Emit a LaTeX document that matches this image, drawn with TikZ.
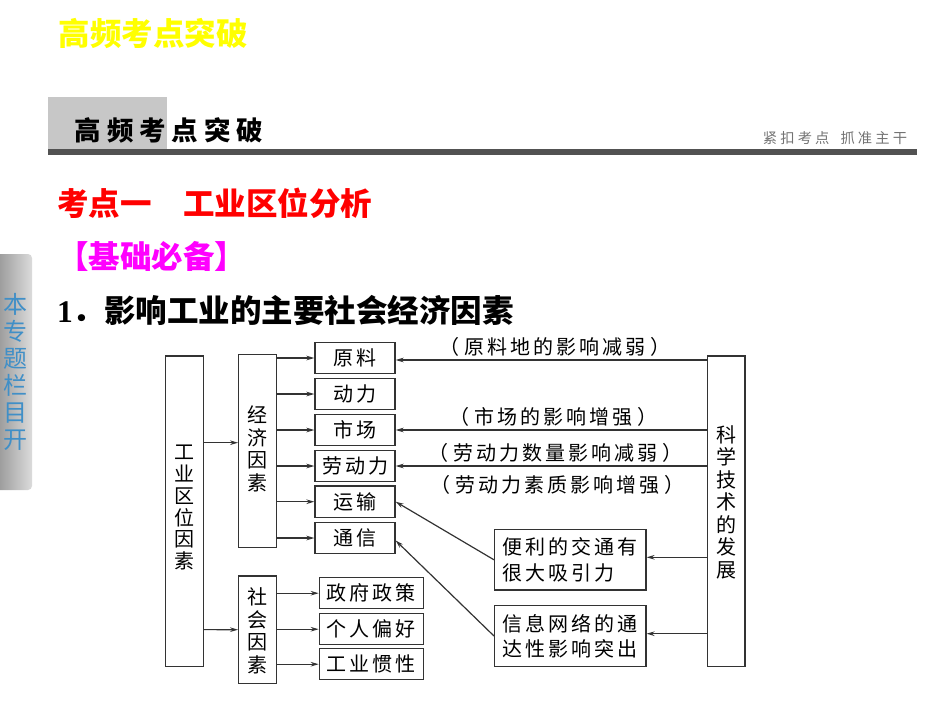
\documentclass[tikz,border=0pt]{standalone}
\usepackage{fontspec}
\setmainfont{Noto Sans CJK SC}
\newfontfamily\boxfont[LetterSpace=15]{Noto Sans CJK SC}
\newfontfamily\headfont[LetterSpace=22]{Noto Sans CJK SC}
\newfontfamily\latinfont{Liberation Serif}
\usetikzlibrary{arrows.meta, positioning}
\definecolor{line1}{rgb}{0.2,0.2,0.2}
\definecolor{tabblue}{rgb}{0.25,0.56,0.78}
\definecolor{yellow1}{rgb}{1,1,0}
\definecolor{red1}{rgb}{1,0,0}
\definecolor{magenta1}{rgb}{1,0,1}
\newcommand{\pnote}[1]{（\hspace{5pt}#1\hspace{5pt}）}

\begin{document}
\begin{tikzpicture}[x=1pt,y=-1pt,>={Stealth[length=8pt,width=4.6pt]},line1]
  \tikzstyle{box}=[draw=line1,line width=1.3pt,text=black,inner sep=0pt,font=\fontsize{20}{22}\boxfont]
  \tikzstyle{small}=[box,minimum width=80pt,minimum height=31.4pt]
  \tikzstyle{wide}=[box,minimum width=104pt,minimum height=31.2pt]
  \tikzstyle{tall}=[box,minimum width=37.6pt]
  \tikzstyle{large}=[box,minimum width=151.3pt,minimum height=60.4pt,align=left,font=\fontsize{20}{25.5}\boxfont]
  \tikzstyle{vtext}=[text=black,align=center,inner sep=0pt,font=\fontsize{20}{22.6}\selectfont]
  \tikzstyle{note}=[text=black,inner sep=0pt,font=\fontsize{20}{22}\boxfont]
  \tikzstyle{arr}=[->,line width=1.2pt]
  \useasboundingbox (0,0) rectangle (950,713);

  % page header
  \node[text=yellow1,inner sep=0pt,font=\fontsize{31.5}{32}\selectfont\bfseries] (title) at (153,33) {高频考点突破};
  \fill[black!22] (48,97) rectangle (167,149);
  \fill[black!68] (48,149) rectangle (917,155);
  \node[text=black,inner sep=0pt,font=\fontsize{26.5}{27}\headfont\bfseries] (head) at (169,130) {高频考点突破};
  \node[text=black!55,inner sep=0pt,font=\fontsize{14.3}{15}\headfont] (slogan) at (835,138) {紧扣考点\hspace{11pt}抓准主干};

  % side tab
  \shade[left color=black!38,right color=black!14] (0,254) [rounded corners=4pt] -- (32,254) -- (32,490) [sharp corners] -- (0,490) -- cycle;
  \node[text=tabblue,align=center,inner sep=0pt,font=\fontsize{24}{27}\selectfont] (tab) at (16,372) {本\\专\\题\\栏\\目\\开};

  % headings
  \node[text=red1,anchor=west,inner sep=0pt,font=\fontsize{31.5}{32}\selectfont\bfseries] (point) at (57,203) {考点一　工业区位分析};
  \node[text=magenta1,anchor=west,inner sep=0pt,font=\fontsize{31.5}{32}\selectfont\bfseries] (basic) at (57,256) {【基础必备】};
  \node[text=black,anchor=west,inner sep=0pt,font=\fontsize{31.5}{32}\selectfont\bfseries] (sub) at (57,310) {{\latinfont 1}．影响工业的主要社会经济因素};

  % tall boxes
  \node[tall,minimum height=310.7pt] (gongye) at (184.5,511.3) {};
  \node[tall,minimum height=192.6pt] (jingji) at (257.5,451) {};
  \node[tall,minimum height=107.3pt] (shehui) at (257.5,629.7) {};
  \node[tall,minimum height=310.7pt] (keji)   at (726.2,511.3) {};
  \node[vtext,font=\fontsize{20}{21.7}\selectfont] (gongyetext) at (184.5,507.7) {工\\业\\区\\位\\因\\素};
  \node[vtext] (jingjitext) at (257.5,449) {经\\济\\因\\素};
  \node[vtext] (shehuitext) at (257.5,630.7) {社\\会\\因\\素};
  \node[vtext,font=\fontsize{20}{22.5}\selectfont] (kejitext) at (726.2,502) {科\\学\\技\\术\\的\\发\\展};

  % factor boxes
  \node[small] (yuanliao) at (355,358)   {原料};
  \node[small] (dongli)   at (355,394)   {动力};
  \node[small] (shichang) at (355,430)   {市场};
  \node[small] (laodong)  at (355,466)   {劳动力};
  \node[small] (yunshu)   at (355,501.7) {运输};
  \node[small] (tongxin)  at (355,538)   {通信};
  \node[wide]  (zhengce)  at (371.3,593.2) {政府政策};
  \node[wide]  (pianhao)  at (371.3,629.2) {个人偏好};
  \node[wide]  (guanxing) at (371.3,664.2) {工业惯性};
  \node[large] (jiaotong) at (570.3,559.8) {便利的交通有\\很大吸引力};
  \node[large] (wangluo)  at (570.3,636)   {信息网络的通\\达性影响突出};

  % notes over the arrows
  \node[note] (note1) at (554.5,347) {\pnote{原料地的影响减弱}};
  \node[note] (note2) at (553,417) {\pnote{市场的影响增强}};
  \node[note] (note3) at (555,452.7) {\pnote{劳动力数量影响减弱}};
  \node[note] (note4) at (557,485) {\pnote{劳动力素质影响增强}};

  \draw[arr] ([yshift=68.6pt]gongye.east) -- ([yshift=8.3pt]jingji.west);
  \draw[arr] ([yshift=-118.3pt]gongye.east) -- (shehui.west);
  \draw[arr] (jingji.east |- yuanliao) -- (yuanliao.west);
  \draw[arr] (jingji.east |- dongli)   -- (dongli.west);
  \draw[arr] (jingji.east |- shichang) -- (shichang.west);
  \draw[arr] (jingji.east |- laodong)  -- (laodong.west);
  \draw[arr] (jingji.east |- yunshu)   -- (yunshu.west);
  \draw[arr] (jingji.east |- tongxin)  -- (tongxin.west);
  \draw[arr] (shehui.east |- zhengce)  -- (zhengce.west);
  \draw[arr] (shehui.east |- pianhao)  -- (pianhao.west);
  \draw[arr] (shehui.east |- guanxing) -- (guanxing.west);
  \draw[arr] ([yshift=-2pt]keji.west |- yuanliao) -- ([yshift=-2pt]yuanliao.east);
  \draw[arr] (keji.west |- shichang)   -- (shichang.east);
  \draw[arr] (keji.west |- laodong)    -- (laodong.east);
  \draw[arr] ([yshift=2.5pt]keji.west |- jiaotong) -- ([yshift=2.5pt]jiaotong.east);
  \draw[arr] ([yshift=2.3pt]keji.west |- wangluo)  -- ([yshift=2.3pt]wangluo.east);
  \draw[arr] (jiaotong.west) -- (yunshu.east);
  \draw[arr] (wangluo.west)  -- ([yshift=-2.5pt]tongxin.east);
\end{tikzpicture}
\end{document}
